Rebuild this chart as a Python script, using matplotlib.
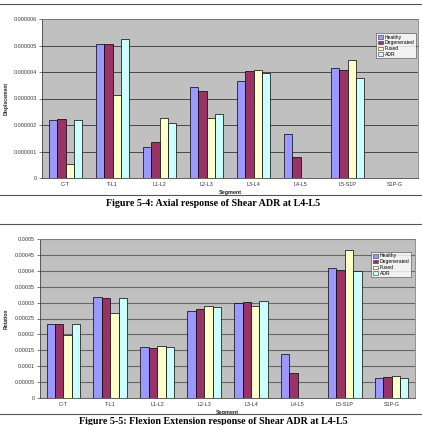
import matplotlib
matplotlib.use("Agg")
import matplotlib.pyplot as plt
import numpy as np
from matplotlib.lines import Line2D
from matplotlib.patches import Patch

segments = ["C-T", "T-L1", "L1-L2", "L2-L3", "L3-L4", "L4-L5", "L5-S1P", "S1P-G"]
series = ["Healthy", "Degenerated", "Fused", "ADR"]
colors = ["#9999FF", "#993366", "#FFFFCC", "#CCFFFF"]

# Figure 5-4: Axial response (displacement)
axial_healthy = [2.20e-6, 5.07e-6, 1.18e-6, 3.43e-6, 3.67e-6, 1.65e-6, 4.15e-6, 0.0]
axial_degenerated = [2.24e-6, 5.07e-6, 1.35e-6, 3.30e-6, 4.03e-6, 0.78e-6, 4.06e-6, 0.0]
axial_fused = [0.54e-6, 3.13e-6, 2.28e-6, 2.26e-6, 4.08e-6, 0.0, 4.45e-6, 0.0]
axial_adr = [2.19e-6, 5.26e-6, 2.08e-6, 2.42e-6, 3.97e-6, 0.0, 3.79e-6, 0.0]
axial_ticks = ["0", "0.000001", "0.000002", "0.000003", "0.000004", "0.000005", "0.000006"]

# Figure 5-5: Flexion Extension response (rotation)
flex_healthy = [0.000232, 0.000317, 0.000160, 0.000274, 0.000298, 0.000138, 0.000408, 0.000064]
flex_degenerated = [0.000232, 0.000315, 0.000157, 0.000280, 0.000301, 0.000078, 0.000402, 0.000066]
flex_fused = [0.000198, 0.000268, 0.000165, 0.000290, 0.000288, 0.0, 0.000465, 0.0000705]
flex_adr = [0.000232, 0.000314, 0.000160, 0.000285, 0.000305, 0.0, 0.000399, 0.000064]
flex_ticks = ["0", "0.00005", "0.0001", "0.00015", "0.0002", "0.00025", "0.0003",
              "0.00035", "0.0004", "0.00045", "0.0005"]

caption1 = "Figure 5-4: Axial response of Shear ADR at L4-L5"
caption2 = "Figure 5-5: Flexion Extension response of Shear ADR at L4-L5"

W, H = 422, 425
fig = plt.figure(figsize=(W / 100, H / 100), dpi=100)
fig.patch.set_facecolor("white")

def fx(px):
    return px / W

def fy(py):
    return 1 - py / H

small = dict(family="Liberation Sans", fontsize=3.9)

def draw(rect, data, ticks, ylabel, legend_rect, gridcolor, gridlw):
    ax = fig.add_axes(rect)
    ax.set_facecolor("#C0C0C0")
    x = np.arange(len(segments))
    bw = 0.18
    for i, (vals, c, name) in enumerate(zip(data, colors, series)):
        ax.bar(x + (i - 1.5) * bw, vals, width=bw, color=c, edgecolor="black",
               linewidth=0.5, label=name, zorder=3)
    tvals = [float(t) for t in ticks]
    ax.set_ylim(0, tvals[-1])
    ax.set_xlim(-0.5, len(segments) - 0.5)
    ax.set_yticks(tvals)
    ax.set_yticklabels(ticks, **small, color="#333333")
    ax.set_xticks(x)
    ax.set_xticklabels(segments, **small, color="#333333")
    ax.tick_params(axis="y", length=2, width=0.5, pad=1.5, color="#444444")
    ax.tick_params(axis="x", length=0, pad=3)
    for t in tvals[1:]:
        ax.axhline(t, color=gridcolor, lw=gridlw, zorder=1)
    for s in ["top", "right"]:
        ax.spines[s].set_color("#808080")
        ax.spines[s].set_linewidth(0.6)
    for s in ["left", "bottom"]:
        ax.spines[s].set_color("#444444")
        ax.spines[s].set_linewidth(0.6)
    ax.set_xlabel("Segment", family="Liberation Sans", fontsize=3.9, fontweight="bold",
                  labelpad=2, color="#222222")
    ax.set_ylabel(ylabel, family="Liberation Sans", fontsize=3.6, fontweight="bold",
                  color="#222222", va="center")
    left_px = rect[0] * W
    width_px = rect[2] * W
    ax.yaxis.set_label_coords((6 - left_px) / width_px, 0.5)
    handles = [Patch(facecolor=c, edgecolor="#333333", linewidth=0.4) for c in colors]
    leg = fig.legend(handles, series, loc="upper left",
                     bbox_to_anchor=(fx(legend_rect[0]), fy(legend_rect[1])),
                     prop=dict(family="Liberation Sans", size=3.6),
                     frameon=True, fancybox=False, edgecolor="#444444",
                     handlelength=1.0, handleheight=0.7, handletextpad=0.4,
                     labelspacing=0.15, borderpad=0.3, borderaxespad=0.0)
    leg.get_frame().set_linewidth(0.5)
    leg.get_frame().set_facecolor("white")
    return ax

# top chart
draw([fx(42), fy(178), fx(418 - 42), (178 - 19) / H],
     [axial_healthy, axial_degenerated, axial_fused, axial_adr],
     axial_ticks, "Displacement", (376, 33), "#333333", 0.6)

# bottom chart
draw([fx(40), fy(398), fx(415 - 40), (398 - 239) / H],
     [flex_healthy, flex_degenerated, flex_fused, flex_adr],
     flex_ticks, "Rotation", (371, 252), "#666666", 0.8)

# frame lines
for py in [4, 195, 224, 414]:
    fig.add_artist(Line2D([0, 1], [fy(py), fy(py)], color="#555555", lw=0.8))

fig.text(0.505, fy(203.5), caption1, ha="center", va="center",
         family="Liberation Serif", fontweight="bold", fontsize=7.2)
fig.text(0.505, fy(422), caption2, ha="center", va="center",
         family="Liberation Serif", fontweight="bold", fontsize=7.2)

fig.savefig("out.png", dpi=100)
